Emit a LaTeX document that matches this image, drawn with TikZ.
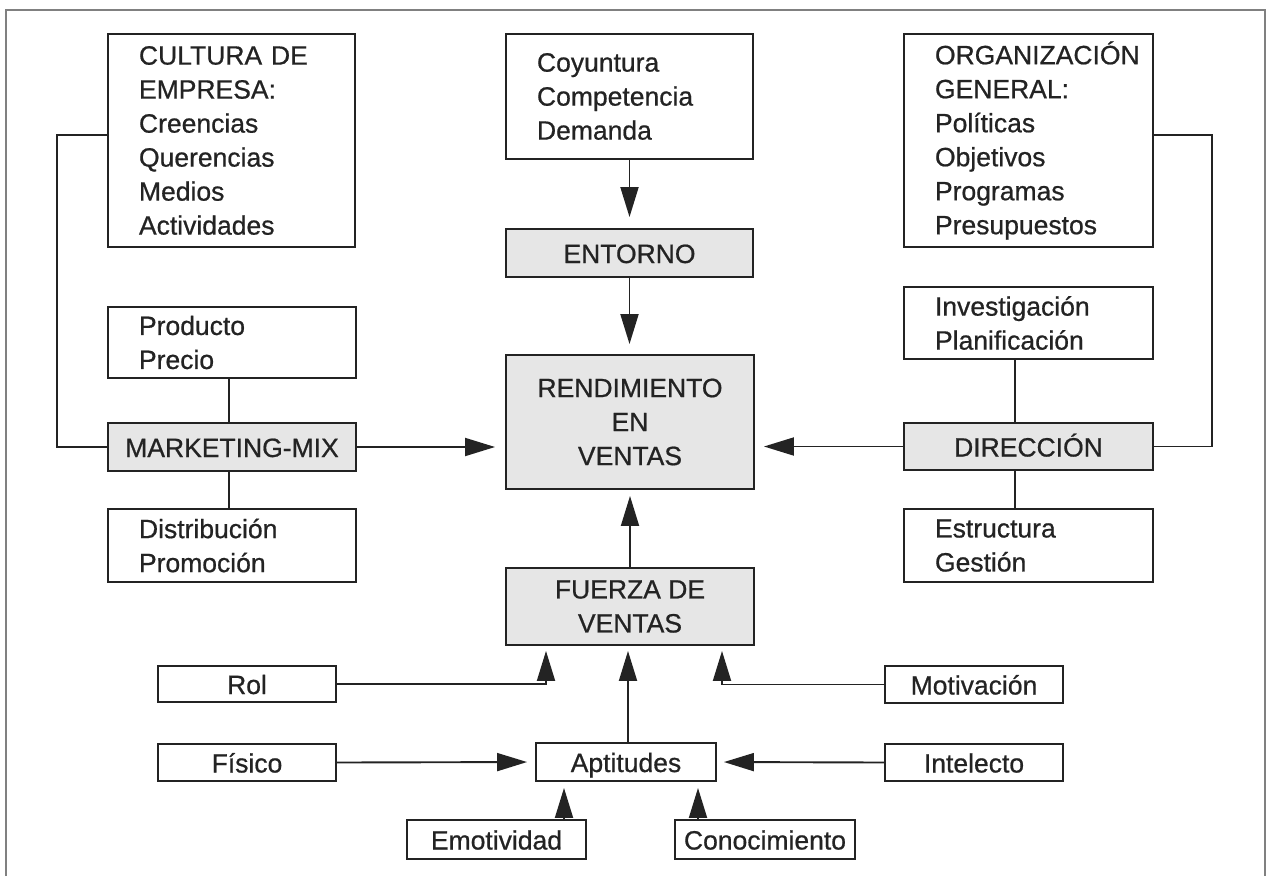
\documentclass[tikz,border=0pt]{standalone}
\usepackage{fontspec}
\setmainfont{Liberation Sans}[FakeBold=0.7]
\usetikzlibrary{arrows.meta}
\definecolor{boxgray}{RGB}{230,230,230}
\definecolor{ink}{RGB}{35,35,35}
\newcommand\fsz{\fontsize{26.5}{34}\selectfont}
\begin{document}
\begin{tikzpicture}[x=1pt,y=-1pt,
  box/.style={draw=ink, line width=1.9pt, inner xsep=4pt, inner ysep=1pt, font=\fsz, text=ink},
  lbox/.style={box, align=left, execute at begin node={\leftskip=27pt}},
  cbox/.style={box, align=center},
  onel/.style={text height=22pt, text depth=2pt},
  gbox/.style={cbox, fill=boxgray},
  wire/.style={draw=ink, line width=1.9pt},
  arr/.style={wire, -{Triangle[length=30pt,width=18pt]}},
]
\useasboundingbox (0,0) rectangle (1269,876);
\draw[black!50, line width=2.5pt] (6,876) -- (6,10) -- (1265,10) -- (1265,876);

% top row
\node[lbox, text width=239pt, minimum width=247pt, minimum height=213pt] (cultura) at (231.5,140.5)
  {CULTURA DE\\EMPRESA:\\Creencias\\Querencias\\Medios\\Actividades};
\node[lbox, text width=239pt, minimum width=247pt, minimum height=125pt] (coy) at (629.5,96.5)
  {Coyuntura\\Competencia\\Demanda};
\node[lbox, text width=241pt, minimum width=249pt, minimum height=213pt] (org) at (1028.5,140.5)
  {ORGANIZACIÓN\\GENERAL:\\Políticas\\Objetivos\\Programas\\Presupuestos};
\node[gbox, onel, minimum width=247pt, minimum height=48pt] (ent) at (629.5,253) {ENTORNO};

% middle
\node[gbox, minimum width=248pt, minimum height=134pt] (rend) at (630,422) {RENDIMIENTO\\EN\\VENTAS};
\node[lbox, text width=240pt, minimum width=248pt, minimum height=71pt] (prod) at (232,342.5) {Producto\\Precio};
\node[gbox, onel, minimum width=248pt, minimum height=48pt] (mm) at (232,447) {MARKETING-MIX};
\node[lbox, text width=240pt, minimum width=248pt, minimum height=73pt] (dist) at (232,545.5) {Distribución\\Promoción};
\node[lbox, text width=241pt, minimum width=249pt, minimum height=72pt] (inv) at (1028.5,323) {Investigación\\Planificación};
\node[gbox, onel, minimum width=249pt, minimum height=47pt] (dir) at (1028.5,446.5) {DIRECCIÓN};
\node[lbox, text width=241pt, minimum width=249pt, minimum height=73pt] (estr) at (1028.5,545.5) {Estructura\\Gestión};
\node[gbox, minimum width=248pt, minimum height=77pt] (fue) at (630,606.5) {FUERZA DE\\VENTAS};

% bottom
\node[cbox, onel, minimum width=178pt, minimum height=36pt] (rol) at (247,684) {Rol};
\node[cbox, onel, minimum width=178pt, minimum height=37pt] (mot) at (974,684.5) {Motivación};
\node[cbox, onel, minimum width=178pt, minimum height=37pt] (fis) at (247,762.5) {Físico};
\node[cbox, onel, minimum width=180pt, minimum height=38pt] (apt) at (626,762) {Aptitudes};
\node[cbox, onel, minimum width=178pt, minimum height=37pt] (int) at (974,762.5) {Intelecto};
\node[cbox, onel, minimum width=179pt, minimum height=39pt] (emo) at (496.5,839.5) {Emotividad};
\node[cbox, onel, minimum width=180pt, minimum height=39pt] (con) at (765,839.5) {Conocimiento};

% connectors
\draw[arr, shorten >=11pt] (coy.south) -- (coy.south |- ent.north);
\draw[arr, shorten >=10pt] (ent.south) -- (ent.south |- rend.north);
\draw[arr, shorten >=10pt] (mm.east) -- (mm.east -| rend.west);
\draw[arr, shorten >=9pt] (dir.west) -- (dir.west -| rend.east);
\draw[arr, shorten >=6pt] (fue.north) -- (fue.north |- rend.south);

\draw[wire] ([yshift=5.5pt]cultura.west) -- ++(-50,0) |- (mm.west);
\draw[wire] ([yshift=5.5pt]org.east) -- ++(58,0) |- (dir.east);
\draw[wire] ([xshift=-3pt]prod.south) -- ([xshift=-3pt]mm.north);
\draw[wire] ([xshift=-3pt]mm.south) -- ([xshift=-3pt]dist.north);
\draw[wire] ([xshift=-13.5pt]inv.south) -- ([xshift=-13.5pt]dir.north);
\draw[wire] ([xshift=-13.5pt]dir.south) -- ([xshift=-13.5pt]estr.north);

\draw[arr, shorten >=5pt] (rol.east) -| ([xshift=-84pt]fue.south);
\draw[arr, shorten >=5pt] (mot.west) -| ([xshift=92pt]fue.south);
\draw[arr, shorten >=5pt] ([xshift=2pt]apt.north) -- ([xshift=-2pt]fue.south);
\draw[arr, shorten >=8pt] (fis.east) -- (apt.west);
\draw[arr, shorten >=7pt] (int.west) -- (apt.east);
\draw[arr, shorten >=6pt] ([xshift=67.5pt]emo.north) -- ([xshift=-62pt]apt.south);
\draw[arr, shorten >=6pt] ([xshift=-67pt]con.north) -- ([xshift=72pt]apt.south);
\end{tikzpicture}
\end{document}
